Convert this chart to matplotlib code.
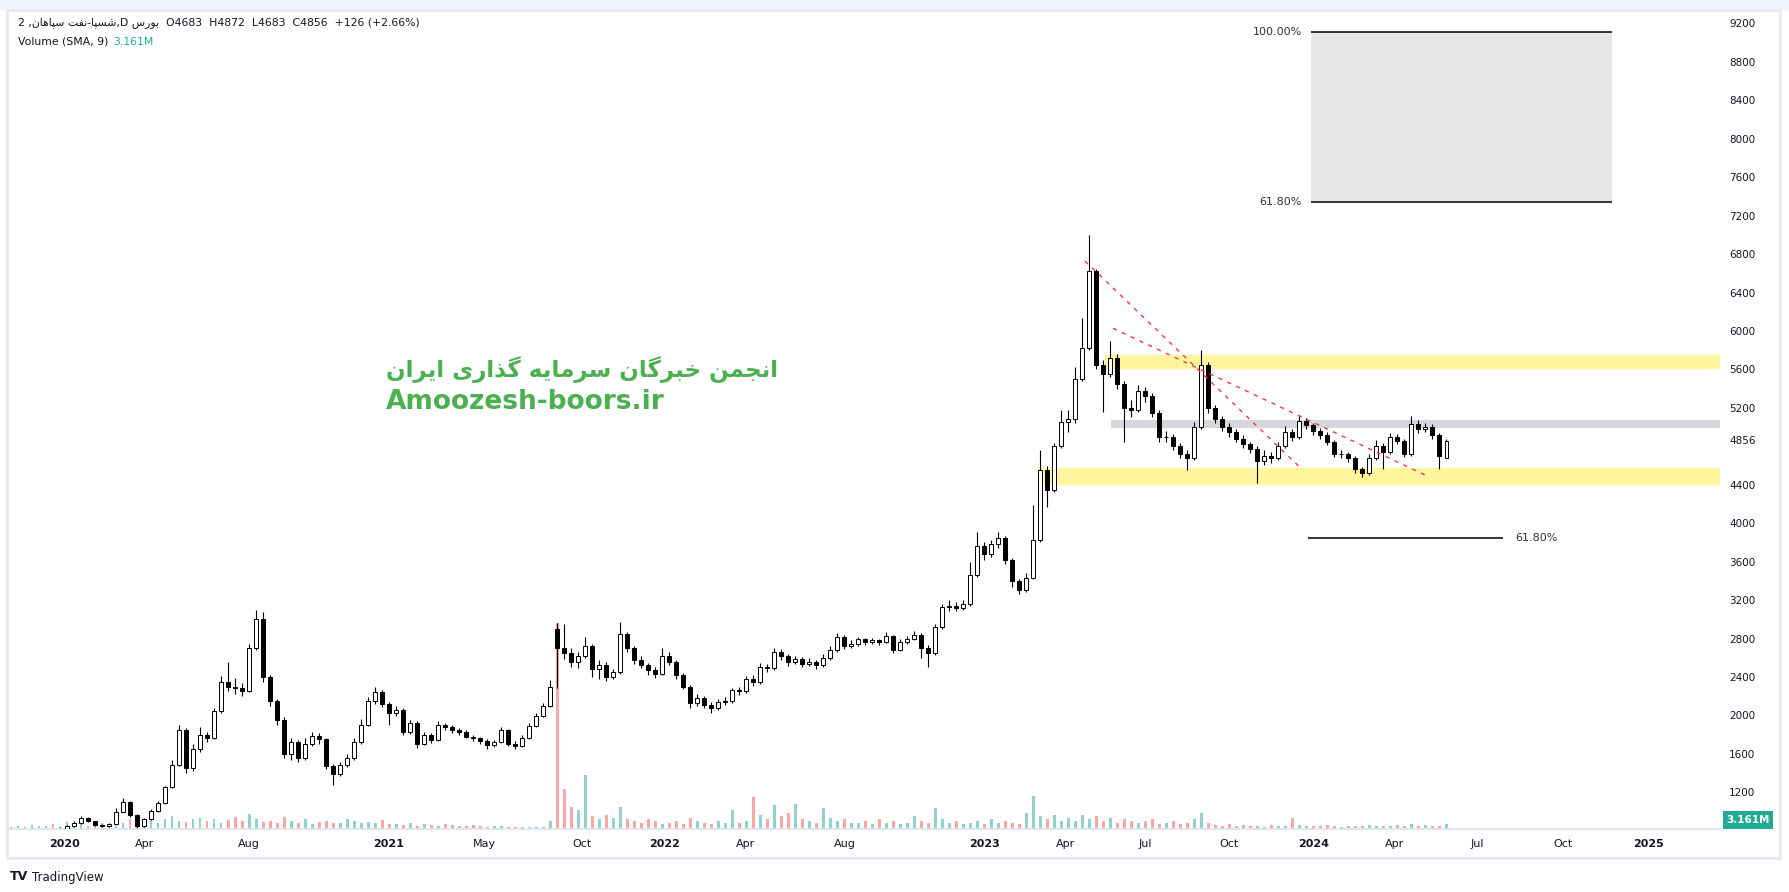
import matplotlib
matplotlib.use('Agg')
import matplotlib.pyplot as plt
from matplotlib.patches import Rectangle

W, H = 1790, 892

# daily chart resampled: one candle per ~4-5 sessions
first_open = 750
closes = [760, 770, 765, 780, 790, 800, 795, 820, 845, 880,
          930, 900, 860, 850, 870, 1000, 1100, 960, 850, 920,
          1010, 1090, 1250, 1480, 1850, 1450, 1650, 1800, 1760, 2050,
          2350, 2300, 2280, 2250, 2700, 3000, 2400, 2150, 1950, 1600,
          1720, 1560, 1700, 1790, 1750, 1470, 1390, 1480, 1560, 1720,
          1900, 2150, 2240, 2120, 2020, 2060, 1830, 1920, 1700, 1800,
          1740, 1900, 1880, 1850, 1830, 1780, 1760, 1730, 1690, 1720,
          1850, 1700, 1680, 1760, 1890, 1990, 2100, 2300, 2700, 2650,
          2560, 2620, 2720, 2480, 2520, 2400, 2450, 2850, 2700, 2580,
          2520, 2470, 2430, 2620, 2560, 2420, 2300, 2130, 2180, 2110,
          2080, 2140, 2150, 2260, 2250, 2380, 2350, 2500, 2490, 2660,
          2620, 2560, 2590, 2540, 2560, 2520, 2600, 2680, 2820, 2720,
          2740, 2790, 2760, 2780, 2760, 2830, 2680, 2760, 2800, 2840,
          2700, 2650, 2920, 3130, 3140, 3120, 3160, 3460, 3760, 3680,
          3780, 3850, 3620, 3400, 3300, 3430, 3820, 4550, 4350, 4800,
          5050, 5080, 5500, 5820, 6620, 5650, 5550, 5720, 5450, 5200,
          5180, 5380, 5320, 5150, 4900, 4900, 4800, 4720, 4680, 5000,
          5650, 5200, 5080, 5000, 4950, 4880, 4820, 4770, 4650, 4700,
          4680, 4800, 4950, 4900, 5060, 5020, 4960, 4920, 4850, 4720,
          4720, 4680, 4560, 4520, 4680, 4800, 4740, 4900, 4860, 4720,
          5030, 4980, 5000, 4920, 4700, 4856]
highs = [775, 785, 780, 795, 800, 815, 810, 835, 860, 900,
         950, 940, 905, 870, 885, 1040, 1140, 1110, 970, 935,
         1030, 1110, 1270, 1540, 1900, 1870, 1700, 1880, 1830, 2080,
         2410, 2560, 2390, 2340, 2740, 3100, 3080, 2420, 2170, 1980,
         1760, 1740, 1760, 1830, 1820, 1760, 1490, 1510, 1600, 1760,
         1960, 2190, 2300, 2260, 2140, 2100, 2080, 1950, 1940, 1830,
         1820, 1940, 1920, 1900, 1870, 1850, 1800, 1780, 1750, 1740,
         1880, 1860, 1730, 1800, 1920, 2030, 2130, 2370, 2960, 2950,
         2700, 2660, 2820, 2740, 2580, 2560, 2480, 2970, 2870, 2720,
         2620, 2550, 2500, 2700, 2660, 2580, 2440, 2320, 2220, 2200,
         2140, 2170, 2190, 2290, 2300, 2410, 2420, 2550, 2540, 2700,
         2690, 2640, 2620, 2610, 2600, 2580, 2640, 2720, 2860, 2840,
         2780, 2820, 2810, 2810, 2800, 2870, 2840, 2790, 2830, 2880,
         2860, 2730, 2950, 3160, 3200, 3180, 3200, 3600, 3910, 3800,
         3830, 3910, 3870, 3640, 3420, 3480, 4190, 4760, 4600, 4830,
         5180, 5180, 5630, 6130, 7000, 6650, 5700, 5900, 5760, 5480,
         5280, 5440, 5420, 5350, 5180, 4960, 4930, 4830, 4760, 5050,
         5800, 5680, 5230, 5120, 5040, 4980, 4920, 4850, 4800, 4760,
         4740, 4840, 5010, 4980, 5130, 5090, 5040, 4990, 4950, 4870,
         4760, 4740, 4700, 4580, 4720, 4870, 4830, 4940, 4930, 4880,
         5120, 5070, 5040, 5030, 4940, 4872]
lows = [745, 755, 755, 760, 775, 785, 785, 790, 815, 840,
        870, 890, 845, 835, 840, 865, 990, 940, 830, 840,
        910, 1000, 1080, 1240, 1470, 1400, 1420, 1620, 1720, 1750,
        2030, 2250, 2220, 2200, 2240, 2680, 2350, 2100, 1900, 1560,
        1540, 1510, 1540, 1680, 1700, 1440, 1280, 1370, 1460, 1540,
        1700, 1890, 2120, 2090, 1900, 1990, 1800, 1810, 1660, 1690,
        1710, 1730, 1850, 1820, 1800, 1760, 1730, 1700, 1650, 1670,
        1710, 1680, 1650, 1670, 1750, 1880, 1980, 2090, 2290, 2590,
        2500, 2490, 2600, 2400, 2380, 2360, 2380, 2430, 2660, 2540,
        2490, 2420, 2390, 2420, 2520, 2380, 2270, 2080, 2100, 2080,
        2020, 2060, 2110, 2130, 2210, 2230, 2310, 2330, 2450, 2470,
        2580, 2510, 2530, 2500, 2510, 2480, 2500, 2580, 2660, 2690,
        2700, 2720, 2730, 2740, 2730, 2750, 2650, 2670, 2740, 2780,
        2600, 2507, 2630, 2900, 3090, 3090, 3100, 3140, 3440, 3620,
        3650, 3740, 3580, 3340, 3260, 3280, 3420, 3800, 4170, 4320,
        4780, 4950, 5040, 5480, 5800, 5600, 5160, 5520, 5400, 4840,
        5100, 5160, 5260, 5100, 4840, 4850, 4760, 4680, 4550, 4660,
        4980, 5150, 5040, 4960, 4900, 4840, 4780, 4730, 4420, 4610,
        4630, 4660, 4780, 4860, 4880, 4980, 4920, 4880, 4810, 4690,
        4680, 4640, 4520, 4480, 4500, 4660, 4560, 4720, 4820, 4690,
        4700, 4940, 4950, 4880, 4560, 4683]
# opens are the previous close, except where the price gapped
gap_opens = {78: 2900, 205: 4683}
# volume in millions
volumes = [1.5, 2, 1.2, 2.5, 1.8, 2.2, 3, 1.5, 4.5, 2,
           3.5, 1.8, 2.5, 4, 3, 5, 4, 6, 3.5, 5.5,
           7, 4, 6, 8, 5, 4.5, 6, 7, 5, 6.5,
           4, 5.5, 7.5, 5, 9.5, 6, 4.5, 5, 3.5, 7.5,
           5, 4, 6, 3, 4.5, 5, 3.5, 4, 6, 5,
           3.5, 4.5, 4, 5.5, 3, 3, 2.5, 3.5, 2, 3,
           2.5, 2, 3, 2.5, 2, 1.8, 2.5, 2, 1.5, 2,
           1.8, 1.5, 1.2, 1.5, 1.2, 1.5, 1, 5, 130, 25,
           14, 12, 34, 8, 6, 9, 7, 14, 6, 5,
           4, 6, 5, 3, 4, 5, 3, 7, 5, 4,
           3, 5, 4, 12, 4, 5, 20, 9, 6, 15,
           8, 10, 16, 6, 5, 4, 13, 7, 5, 6,
           4, 4, 5, 3, 6, 4, 5, 3, 4, 8,
           5, 4, 13, 6, 4, 5, 3, 4, 5, 3,
           6, 4, 5, 4, 3, 10, 21, 8, 6, 9,
           5, 7, 5, 9, 6, 8, 5, 7, 4, 6,
           5, 4, 5, 6, 3, 4, 5, 3, 4, 6,
           10, 4, 2.5, 2, 3, 2, 2.5, 1.8, 2, 1.5,
           2.5, 2, 1.8, 7, 2.5, 2, 2, 1.8, 2.5, 2,
           1.5, 2.2, 2, 1.8, 2.5, 2, 2.2, 1.8, 2.5, 2,
           3, 2.2, 2.5, 2, 1.8, 3.161]

tick_pos = [7.7, 19.1, 34.0, 54.0, 67.6, 81.6, 93.4, 104.9, 119.1, 139.0,
            150.6, 162.0, 173.9, 186.0, 197.6, 209.4, 221.7, 233.9]
tick_lbl = ['2020', 'Apr', 'Aug', '2021', 'May', 'Oct', '2022', 'Apr', 'Aug', '2023',
            'Apr', 'Jul', 'Oct', '2024', 'Apr', 'Jul', 'Oct', '2025']
year_lbl = ['2020', '2021', '2022', '2023', '2024', '2025']
# 4800 sits under the last-price label, so it is left out
price_ticks = [1200, 1600, 2000, 2400, 2800, 3200, 3600, 4000, 4400,
               5200, 5600, 6000, 6400, 6800, 7200, 7600, 8000, 8400, 8800, 9200]
last_price = 4856

# drawings (bar index, price)
zone_upper = (156.3, 5604, 5750)
zone_lower = (146.7, 4398, 4571)
zone_grey = (157.1, 4994, 5073)
fib_box = (185.7, 228.7, 7343, 9108)
fib_line = (185.3, 213.1, 3846)
trend_a = ([153.4, 184.4], [6728, 4560])
trend_b = ([157.4, 202.0], [6028, 4501])

x_min, x_max = -0.57, 244.1
p_min, p_max = 818, 9340

# minimal Persian shaping (matplotlib has no bidi / joining)
FORMS = {
    'ا': ('\ufe8d', '\ufe8e'), 'ب': ('\ufe8f', '\ufe90', '\ufe91', '\ufe92'),
    'پ': ('\ufb56', '\ufb57', '\ufb58', '\ufb59'), 'ت': ('\ufe95', '\ufe96', '\ufe97', '\ufe98'),
    'ج': ('\ufe9d', '\ufe9e', '\ufe9f', '\ufea0'), 'خ': ('\ufea5', '\ufea6', '\ufea7', '\ufea8'),
    'ذ': ('\ufeab', '\ufeac'), 'ر': ('\ufead', '\ufeae'), 'و': ('\ufeed', '\ufeee'),
    'س': ('\ufeb1', '\ufeb2', '\ufeb3', '\ufeb4'), 'ش': ('\ufeb5', '\ufeb6', '\ufeb7', '\ufeb8'),
    'ف': ('\ufed1', '\ufed2', '\ufed3', '\ufed4'), 'م': ('\ufee1', '\ufee2', '\ufee3', '\ufee4'),
    'ن': ('\ufee5', '\ufee6', '\ufee7', '\ufee8'), 'ه': ('\ufee9', '\ufeea', '\ufeeb', '\ufeec'),
    'ی': ('\ufbfc', '\ufbfd', '\ufbfe', '\ufbff'), 'گ': ('\ufb92', '\ufb93', '\ufb94', '\ufb95'),
}

def shape(txt):
    out = []
    for k, ch in enumerate(txt):
        if ch not in FORMS:
            out.append(ch)
            continue
        prev = txt[k - 1] if k > 0 else ''
        nxt = txt[k + 1] if k + 1 < len(txt) else ''
        jp = prev in FORMS and len(FORMS[prev]) == 4
        jn = len(FORMS[ch]) == 4 and nxt in FORMS
        f = FORMS[ch]
        if jp and jn:
            out.append(f[3])
        elif jp:
            out.append(f[1])
        elif jn:
            out.append(f[2])
        else:
            out.append(f[0])
    return ''.join(out)[::-1]


fig = plt.figure(figsize=(W / 100, H / 100), dpi=100)
fig.patch.set_facecolor('white')

rect = [7 / W, 1 - 829 / H, (1720 - 7) / W, (829 - 10) / H]
axv = fig.add_axes(rect)
ax = fig.add_axes(rect)
ax.patch.set_visible(False)

opens = [first_open] + closes[:-1]
for k, v in gap_opens.items():
    opens[k] = v
xs = list(range(len(closes)))
up = [c >= o for o, c in zip(opens, closes)]

# volume pane
axv.bar(xs, volumes, width=0.42, color=['#92d2cc' if u else '#f7a9a7' for u in up], linewidth=0)
axv.set_xlim(x_min, x_max)
axv.set_ylim(0, 517)
axv.axis('off')

# zones
for x0, lo, hi in [zone_upper, zone_lower]:
    ax.add_patch(Rectangle((x0, lo), x_max - x0, hi - lo, facecolor='#fff59d', edgecolor='none', zorder=1))
ax.add_patch(Rectangle((zone_grey[0], zone_grey[1]), x_max - zone_grey[0], zone_grey[2] - zone_grey[1],
                       facecolor='#d6d7dc', edgecolor='none', zorder=1))

# candles
ax.vlines(xs, lows, highs, color='black', linewidth=0.8, zorder=2)
ax.bar(xs, [abs(c - o) for o, c in zip(opens, closes)], bottom=[min(o, c) for o, c in zip(opens, closes)],
       width=0.5, color=['white' if u else 'black' for u in up], edgecolor='black', linewidth=0.7, zorder=3)

# trend lines
for tx, ty in [trend_a, trend_b]:
    ax.plot(tx, ty, color='#f23645', linewidth=1, dashes=(3, 4), zorder=4)

# fib drawings
ax.add_patch(Rectangle((fib_box[0], fib_box[2]), fib_box[1] - fib_box[0], fib_box[3] - fib_box[2],
                       facecolor='#e6e6e6', edgecolor='none', zorder=1))
ax.hlines([fib_box[2], fib_box[3]], fib_box[0], fib_box[1], color='black', linewidth=1.1, zorder=2)
ax.text(fib_box[0] - 1.3, fib_box[3], '100.00%', ha='right', va='center', fontsize=8, color='#333333')
ax.text(fib_box[0] - 1.3, fib_box[2], '61.80%', ha='right', va='center', fontsize=8, color='#333333')
ax.hlines(fib_line[2], fib_line[0], fib_line[1], color='black', linewidth=1.1, zorder=2)
ax.text(fib_line[1] + 1.7, fib_line[2], '61.80%', ha='left', va='center', fontsize=8, color='#333333')

ax.set_xlim(x_min, x_max)
ax.set_ylim(p_min, p_max)
for s in ['top', 'left', 'right']:
    ax.spines[s].set_visible(False)
ax.spines['bottom'].set_color('#e0e3eb')
ax.spines['bottom'].set_linewidth(1.2)

ax.yaxis.tick_right()
ax.set_yticks(price_ticks)
ax.set_yticklabels([str(p) for p in price_ticks])
ax.tick_params(axis='y', length=0, pad=6.5, labelsize=7.5, labelcolor='#131722')
ax.set_xticks(tick_pos)
ax.set_xticklabels(tick_lbl)
ax.tick_params(axis='x', length=0, pad=7, labelsize=8, labelcolor='#131722')
for t in ax.get_xticklabels():
    if t.get_text() in year_lbl:
        t.set_fontweight('bold')

ax.text(1 + 9 / 1713, last_price, str(last_price), transform=ax.get_yaxis_transform(), ha='left',
        va='center', fontsize=7.5, color='#131722')

# volume value label on the price scale
fig.text(1748 / W, 1 - 820 / H, '3.161M', ha='center', va='center', fontsize=7.5, fontweight='bold',
         color='white', bbox=dict(facecolor='#22ab94', edgecolor='none', boxstyle='square,pad=0.35'))

# watermark
fig.text(386 / W, 1 - 370 / H, shape('انجمن خبرگان سرمایه گذاری ایران'), ha='left', va='center',
         fontsize=16.6, fontweight='bold', color='#4caf50', family='DejaVu Sans')
fig.text(386 / W, 1 - 402 / H, 'Amoozesh-boors.ir', ha='left', va='center',
         fontsize=19, fontweight='bold', color='#4caf50', family='DejaVu Sans')

# legend lines
header = '2 ,' + shape('شسپا-نفت سپاهان') + ',D ' + shape('بورس') + '  O4683  H4872  L4683  C4856  +126 (+2.66%)'
fig.text(18 / W, 1 - 23 / H, header, ha='left', va='center', fontsize=7.8, color='#131722')
fig.text(18 / W, 1 - 42 / H, 'Volume (SMA, 9)', ha='left', va='center', fontsize=7.8, color='#131722')
fig.text(113 / W, 1 - 42 / H, '3.161M', ha='left', va='center', fontsize=7.8, color='#22ab94')

# frame of the chart panel
fig.patches.append(Rectangle((0, 1 - 10 / H), 1, 10 / H, transform=fig.transFigure,
                             facecolor='#f0f3fa', edgecolor='none'))
fig.patches.append(Rectangle((7 / W, 1 - 858 / H), (1780 - 7) / W, (858 - 10) / H, transform=fig.transFigure,
                             facecolor='none', edgecolor='#e6e9f0', linewidth=2))

# branding
fig.text(10 / W, 1 - 877 / H, 'TV', ha='left', va='center', fontsize=9, fontweight='heavy', color='#131722')
fig.text(32 / W, 1 - 877 / H, 'TradingView', ha='left', va='center', fontsize=8.5, color='#131722')

fig.savefig('out.png', dpi=100, facecolor='white')
